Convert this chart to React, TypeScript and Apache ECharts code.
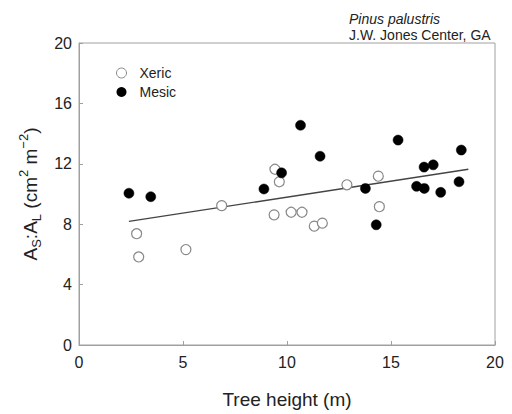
import React, { useEffect, useRef } from "react";
import * as echarts from "echarts";

const xericX = [2.77, 2.87, 5.14, 6.86, 9.38, 9.42, 9.63, 10.2, 10.72, 11.31, 11.7, 12.88, 14.39, 14.44];
const xericY = [7.37, 5.83, 6.32, 9.23, 8.62, 11.64, 10.81, 8.79, 8.79, 7.87, 8.07, 10.61, 11.18, 9.16];
const mesicX = [2.4, 3.45, 8.89, 9.74, 10.65, 11.59, 13.77, 14.29, 15.34, 16.23, 16.6, 16.59, 17.03, 17.39, 18.27, 18.38];
const mesicY = [10.05, 9.82, 10.33, 11.4, 14.55, 12.5, 10.37, 7.96, 13.57, 10.51, 10.37, 11.78, 11.93, 10.11, 10.81, 12.91];
const fitX = [2.4, 18.72];
const fitY = [8.18, 11.64];
const xTicks = [0, 5, 10, 15, 20];
const yTicks = [0, 4, 8, 12, 16, 20];

const FONT = "'Liberation Sans', Arial, sans-serif";

export default function App() {
  const ref = useRef<HTMLDivElement>(null);
  useEffect(() => {
    if (!ref.current) return;
    const chart = echarts.init(ref.current, undefined, { renderer: "svg" });
    const pairs = (xs: number[], ys: number[]) => xs.map((x, i) => [x, ys[i]]);
    chart.setOption({
      animation: false,
      textStyle: { fontFamily: FONT },
      grid: { left: 79, top: 43, right: 17, bottom: 67, show: true, borderColor: "#a0a0a0", borderWidth: 1 },
      title: {
        text: "{i|Pinus palustris}\nJ.W. Jones Center, GA",
        left: 344,
        top: 6,
        textStyle: {
          fontFamily: FONT,
          fontSize: 14,
          fontWeight: "normal",
          color: "#222",
          lineHeight: 16,
          rich: { i: { fontStyle: "italic", fontSize: 14, fontFamily: FONT, color: "#222", lineHeight: 16 } },
        },
      },
      legend: {
        left: 111,
        top: 61,
        orient: "vertical",
        itemGap: 5,
        itemWidth: 10,
        itemHeight: 10,
        textStyle: { fontFamily: FONT, fontSize: 14, color: "#222", padding: [0, 0, 0, 8] },
        data: [
          { name: "Xeric", icon: "circle", itemStyle: { color: "#fff", borderColor: "#888", borderWidth: 1 } },
          { name: "Mesic", icon: "circle", itemStyle: { color: "#000", borderColor: "#000", borderWidth: 0 } },
        ],
      },
      xAxis: {
        type: "value",
        min: xTicks[0],
        max: xTicks[xTicks.length - 1],
        interval: 5,
        name: "Tree height (m)",
        nameLocation: "middle",
        nameGap: 45,
        nameTextStyle: { fontFamily: FONT, fontSize: 19, color: "#222" },
        axisLine: { lineStyle: { color: "#a0a0a0" } },
        axisTick: { inside: true, length: 4, lineStyle: { color: "#a0a0a0" } },
        axisLabel: { fontFamily: FONT, fontSize: 16, color: "#222", margin: 9 },
        splitLine: { show: false },
      },
      yAxis: {
        type: "value",
        min: yTicks[0],
        max: yTicks[yTicks.length - 1],
        interval: 4,
        name: "{n|A}{sub|S}{n|:A}{sub|L}{n| (cm}{sup|2}{n| m}{sup|−2}{n|)}",
        nameLocation: "middle",
        nameGap: 33,
        nameTextStyle: {
          fontFamily: FONT,
          fontSize: 19,
          color: "#222",
          rich: {
            n: { fontFamily: FONT, fontSize: 19, color: "#222", lineHeight: 26, verticalAlign: "middle" },
            sub: { fontFamily: FONT, fontSize: 13, color: "#222", lineHeight: 26, verticalAlign: "bottom", padding: [9, 0, 0, 0] },
            sup: { fontFamily: FONT, fontSize: 13, color: "#222", lineHeight: 26, verticalAlign: "top", padding: [0, 0, 9, 0] },
          },
        },
        axisLine: { show: true, lineStyle: { color: "#a0a0a0" } },
        axisTick: { show: true, inside: true, length: 4, lineStyle: { color: "#a0a0a0" } },
        axisLabel: { fontFamily: FONT, fontSize: 16, color: "#222", margin: 7 },
        splitLine: { show: false },
      },
      series: [
        {
          name: "Fit",
          type: "line",
          data: pairs(fitX, fitY),
          symbol: "none",
          lineStyle: { color: "#444", width: 1.3 },
          z: 1,
        },
        {
          name: "Xeric",
          type: "scatter",
          data: pairs(xericX, xericY),
          symbol: "circle",
          symbolSize: 10,
          itemStyle: { color: "#fff", borderColor: "#888", borderWidth: 1.2, opacity: 1 },
          z: 2,
        },
        {
          name: "Mesic",
          type: "scatter",
          data: pairs(mesicX, mesicY),
          symbol: "circle",
          symbolSize: 10,
          itemStyle: { color: "#000", borderColor: "#000", borderWidth: 0.5, opacity: 1 },
          z: 3,
        },
      ],
    });
    return () => chart.dispose();
  }, []);
  return <div ref={ref} style={{ width: 512, height: 414, position: "absolute", left: 0, top: 0 }} />;
}
